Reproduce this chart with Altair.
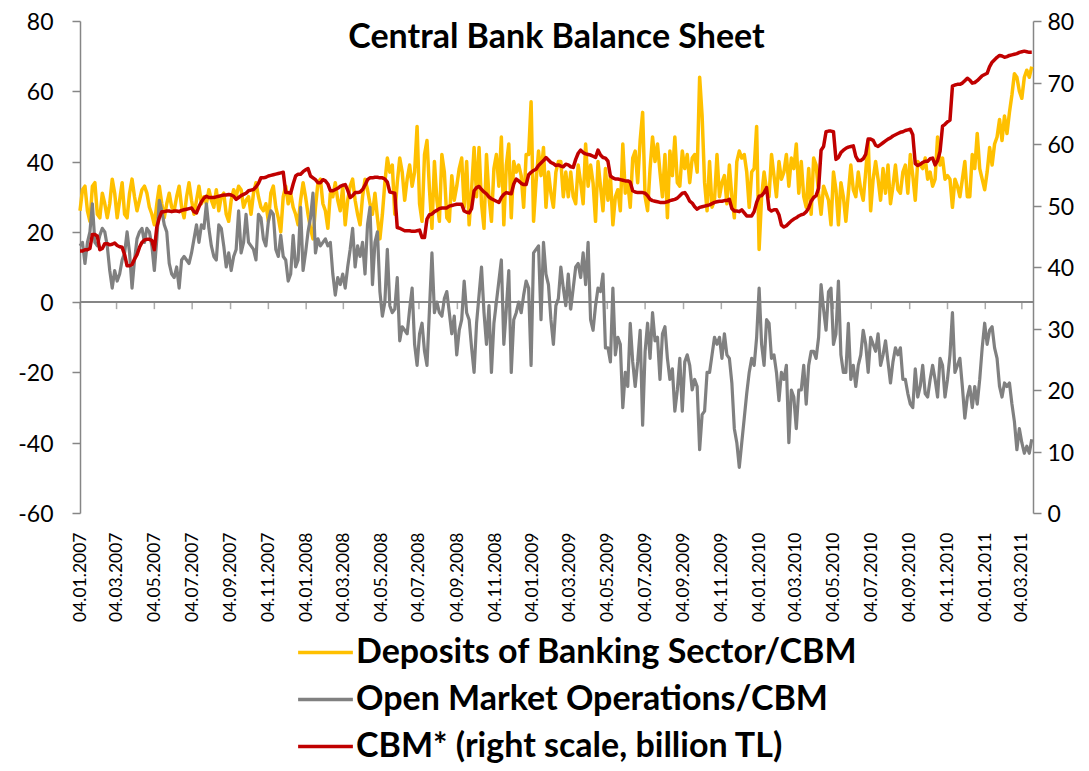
import altair as alt
import pandas as pd

# ---------------- data (one value every 4 days from 04.01.2007) ----------------
START = "2007-01-04"
STEP_DAYS = 4
SPAN_DAYS = 1538

series_names = [
    "Deposits of Banking Sector/CBM",
    "Open Market Operations/CBM",
    "CBM* (right scale, billion TL)",
]
series_colors = ["#FFC000", "#808080", "#C00000"]

deposits = [
    26, 32, 33, 26, 23, 33, 34, 25, 24, 31, 28, 24, 28, 35, 31, 24, 29, 34, 25, 24, 31, 35, 30, 26, 29,
    32, 33, 31, 27, 25, 22, 28, 33, 28, 24, 28, 31, 27, 26, 30, 33, 27, 24, 30, 34, 29, 25, 29, 33, 28,
    30, 28, 32, 29, 27, 32, 26, 30, 31, 25, 23, 29, 32, 30, 33, 32, 27, 29, 30, 25, 31, 34, 30, 27, 26,
    28, 23, 31, 33, 27, 24, 20, 30, 33, 28, 31, 27, 25, 22, 29, 34, 30, 25, 21, 18, 27, 34, 35, 28,
    26, 21, 31, 30, 34, 29, 26, 33, 22, 29, 33, 35, 29, 25, 22, 30, 35, 32, 28, 25, 31, 24, 18, 25, 34,
    41, 37, 39, 25, 34, 41, 37, 29, 35, 39, 33, 37, 50, 28, 23, 42, 46, 32, 21, 40, 29, 23, 42, 37,
    24, 23, 36, 29, 33, 38, 41, 27, 40, 22, 32, 44, 30, 44, 28, 21, 42, 30, 23, 38, 42, 33, 47, 22, 39,
    45, 24, 40, 37, 39, 36, 27, 42, 42, 57, 23, 34, 43, 36, 44, 27, 37, 31, 27, 37, 40, 40, 30,
    37, 30, 37, 30, 28, 39, 34, 28, 45, 33, 39, 34, 23, 40, 33, 26, 38, 29, 36, 22, 30, 32, 26, 45, 31,
    34, 27, 41, 43, 34, 46, 54, 30, 26, 38, 47, 40, 45, 37, 30, 42, 24, 43, 36, 47, 34, 33, 43, 38,
    42, 34, 41, 42, 37, 64, 53, 34, 26, 40, 27, 29, 42, 30, 34, 36, 28, 39, 30, 24, 40, 43, 41, 42, 37,
    27, 37, 38, 50, 15, 30, 37, 32, 30, 42, 36, 30, 40, 35, 37, 42, 33, 41, 38, 45, 31, 40, 30,
    27, 38, 25, 41, 39, 31, 25, 33, 31, 29, 22, 37, 32, 22, 34, 30, 23, 31, 39, 32, 30, 37, 32, 29, 37,
    46, 26, 35, 40, 35, 29, 38, 31, 39, 28, 33, 39, 32, 31, 37, 39, 31, 42, 36, 29, 40, 39, 38, 41,
    35, 37, 33, 35, 47, 39, 41, 35, 36, 35, 27, 35, 33, 30, 35, 40, 30, 30, 42, 38, 48, 38, 35, 32, 37,
    44, 39, 45, 47, 52, 46, 53, 48, 54, 59, 65, 64, 60, 58, 64, 66, 64, 67,
]

omo = [
    16, 17, 11, 17, 20, 28, 17, 16, 19, 21, 20, 16, 9, 4, 9, 6, 8, 12, 14, 20, 14, 4, 12, 18, 20,
    21, 17, 21, 20, 16, 9, 18, 29, 26, 22, 20, 11, 8, 7, 10, 4, 12, 13, 12, 11, 14, 18, 22, 17, 22,
    21, 28, 21, 16, 13, 12, 22, 21, 16, 10, 14, 9, 13, 15, 26, 14, 17, 25, 17, 16, 15, 12, 25, 24, 18,
    16, 23, 26, 25, 15, 13, 19, 13, 12, 6, 8, 19, 10, 12, 27, 9, 14, 20, 24, 31, 14, 18, 16, 17,
    18, 16, 17, 8, 2, 7, 5, 8, 4, 10, 15, 21, 10, 16, 13, 17, 8, 22, 27, 5, 17, 20, 3, -4, 0,
    15, -1, -3, -2, 7, -11, -7, -8, -9, -2, 4, -12, -18, -9, -6, -14, -18, -2, 14, -3, 0, -3, -4, 1,
    3, -3, -9, -4, -15, -8, -5, 6, -3, -5, -13, -20, -6, 2, 10, -3, -12, -1, -20, -6, 0, 6, 12, -12, -2,
    9, -20, -5, -3, 0, -3, 2, 6, 4, -18, 14, 15, 16, -5, 17, 8, 5, -5, -12, -1, 1, 10, 4,
    -1, 8, -2, 4, 10, 11, 7, 14, 5, 17, -5, -8, -1, 4, 3, 8, -13, -13, -17, 4, -15, -10, -12, -30, -20,
    -24, -6, -17, -24, -17, -8, -35, -14, -6, -16, -3, -11, -10, -22, -9, -7, -16, -22, -19, -31, -25, -16, -31, -17,
    -15, -18, -25, -22, -24, -42, -32, -31, -20, -20, -15, -10, -12, -10, -16, -9, -15, -16, -23, -36, -40, -47, -40, -33, -26,
    -20, -16, -18, -10, 4, -12, -18, -5, -6, -16, -15, -20, -28, -20, -22, -18, -40, -25, -27, -36, -25, -25, -18,
    -29, -18, -14, -14, -16, -10, 5, -2, -8, 3, 4, -12, -9, 6, -15, -20, -20, -6, -22, -18, -24, -18, -15, -8, -12,
    -20, -10, -12, -14, -9, -18, -15, -11, -17, -23, -17, -13, -15, -13, -22, -22, -26, -29, -30, -19, -27, -24, -18, -26,
    -27, -22, -18, -22, -27, -16, -18, -27, -22, -15, -3, -20, -18, -16, -24, -33, -27, -24, -30, -24, -29, -22, -13, -6, -12,
    -8, -7, -13, -16, -24, -27, -23, -24, -23, -29, -34, -42, -36, -40, -43, -41, -43, -39,
]

cbm = [
    42.6, 42.6, 42.8, 42.8, 43.0, 45.3, 45.3, 45.0, 42.8, 43.0, 43.8, 43.8, 43.6, 43.7, 43.9, 43.5, 43.3,
    43.2, 42.0, 40.2, 40.2, 40.4, 41.3, 42.0, 43.2, 44.0, 44.4, 44.5, 44.5, 44.3, 42.8, 46.5, 48.0, 49.0,
    49.0, 49.1, 49.1, 49.0, 49.1, 49.1, 49.0, 49.2, 49.3, 49.4, 49.5, 49.6, 49.0, 48.8, 49.8, 50.6,
    51.2, 51.5, 51.3, 51.3, 51.3, 51.4, 51.5, 51.6, 51.7, 51.7, 51.8, 51.7, 51.5, 51.0, 51.3, 51.6, 51.8,
    52.0, 52.4, 52.5, 52.6, 53.0, 53.6, 54.5, 54.5, 54.6, 54.8, 54.9, 55.0, 55.1, 55.2, 55.3, 55.4, 52.1,
    52.1, 52.0, 53.5, 54.8, 55.1, 55.1, 55.5, 55.8, 56.0, 54.8, 54.5, 54.2, 53.7, 53.7, 54.2,
    54.0, 53.5, 52.4, 52.4, 52.6, 52.8, 53.1, 53.3, 53.4, 52.5, 51.3, 51.6, 52.1, 52.1, 52.2, 52.6, 53.3,
    54.2, 54.5, 54.5, 54.6, 54.6, 54.5, 54.5, 54.3, 53.8, 52.2, 52.1, 52.0, 46.4, 46.3, 46.1, 45.9, 45.9,
    45.9, 45.8, 45.8, 45.9, 46.0, 44.8, 44.8, 47.8, 48.5, 48.6, 49.0, 49.2, 49.5, 49.6, 49.6,
    49.6, 49.9, 50.0, 50.1, 50.2, 50.2, 50.2, 49.1, 48.9, 48.8, 49.5, 52.4, 52.9, 53.1, 52.6, 52.2, 51.9,
    51.4, 51.1, 50.9, 50.7, 50.5, 51.3, 51.8, 52.1, 52.0, 51.9, 53.5, 54.3, 54.0, 53.6, 53.4, 53.4, 55.0,
    55.4, 55.7, 55.9, 56.5, 56.9, 57.3, 57.8, 57.4, 57.0, 56.8, 56.5, 56.6, 56.4, 56.3,
    56.7, 56.6, 56.3, 56.2, 57.5, 58.5, 59.0, 58.6, 58.4, 58.3, 58.2, 58.0, 57.8, 59.0, 58.2, 57.8, 57.7,
    57.2, 54.8, 54.5, 54.3, 54.3, 54.2, 54.1, 54.0, 54.0, 53.8, 52.4, 52.2, 52.1, 52.1, 52.1, 52.0, 51.6,
    51.0, 50.8, 50.7, 50.6, 50.5, 50.5, 50.5, 50.6, 50.8, 50.9, 51.0, 51.2, 51.6, 52.0, 52.1,
    51.5, 50.7, 50.4, 49.8, 49.4, 49.7, 49.8, 49.9, 50.0, 50.1, 50.3, 50.5, 50.6, 50.7, 50.7, 50.8, 50.8,
    51.0, 49.5, 49.1, 49.1, 49.0, 49.3, 48.8, 48.3, 48.3, 48.3, 49.0, 50.5, 51.5, 51.6, 52.1, 52.9, 49.4,
    49.1, 49.3, 49.3, 48.5, 46.8, 46.5, 46.7, 47.1, 47.5, 47.8, 48.0, 48.3, 48.5, 48.6,
    49.0, 49.6, 50.7, 51.3, 51.6, 52.8, 59.0, 59.6, 62.0, 62.1, 62.1, 62.0, 57.5, 57.8, 58.6, 59.0, 59.3,
    59.5, 59.6, 59.7, 58.0, 57.3, 57.3, 57.6, 58.3, 60.8, 60.8, 60.6, 59.8, 59.6, 59.9, 60.2, 60.5, 60.8,
    61.0, 61.3, 61.5, 61.7, 61.9, 62.0, 62.2, 62.3, 62.4, 61.5, 56.8, 56.5, 56.7, 57.0, 57.2,
    57.2, 57.6, 57.7, 56.6, 57.3, 58.8, 62.9, 63.2, 63.6, 63.9, 69.4, 69.6, 69.7, 69.7, 69.9, 70.3, 70.7,
    70.4, 69.9, 70.0, 70.3, 70.7, 71.1, 71.3, 71.5, 72.6, 73.3, 73.7, 74.1, 74.4, 74.3, 74.1, 74.2, 74.4,
    74.5, 74.6, 74.7, 74.9, 75.0, 75.1, 75.0, 74.9, 74.9,
]

tick_labels = [
    "04.01.2007", "04.03.2007", "04.05.2007", "04.07.2007", "04.09.2007", "04.11.2007",
    "04.01.2008", "04.03.2008", "04.05.2008", "04.07.2008", "04.09.2008", "04.11.2008",
    "04.01.2009", "04.03.2009", "04.05.2009", "04.07.2009", "04.09.2009", "04.11.2009",
    "04.01.2010", "04.03.2010", "04.05.2010", "04.07.2010", "04.09.2010", "04.11.2010",
    "04.01.2011", "04.03.2011",
]
left_ticks = [-60, -40, -20, 0, 20, 40, 60, 80]
right_ticks = [0, 10, 20, 30, 40, 50, 60, 70, 80]

TITLE = "Central Bank Balance Sheet"
FONT = "Lato"
AXIS_GREY = "#868686"


# ---------------- tables ----------------
def frame(values, name):
    dates = pd.date_range(START, periods=len(values), freq=f"{STEP_DAYS}D")
    return pd.DataFrame({"date": dates.strftime("%Y-%m-%d"), "value": values, "series": name})


df_dep = frame(deposits, series_names[0])
df_omo = frame(omo, series_names[1])
df_cbm = frame(cbm, series_names[2])

tick_dates = pd.to_datetime(tick_labels, format="%d.%m.%Y")
tick_ms = [int(t.value // 10**6) for t in tick_dates]
df_ticks = pd.DataFrame({"date": tick_dates.strftime("%Y-%m-%d")})

start_ms = int(pd.Timestamp(START).value // 10**6)
end_ms = int((pd.Timestamp(START) + pd.Timedelta(days=SPAN_DAYS)).value // 10**6)

# ---------------- encodings ----------------
x_axis = alt.Axis(
    values=tick_ms, labelExpr="utcFormat(datum.value, '%d.%m.%Y')", labelAngle=270,
    labelFont=FONT, labelFontSize=17.5, labelColor="#000000", labelPadding=19,
    labelFlush=False, labelOverlap=False, domain=False, ticks=False, grid=False, title=None,
)
x_scale = alt.Scale(type="utc", domain=[start_ms, end_ms], nice=False)
x_enc = alt.X("date:T", scale=x_scale, axis=x_axis)

color_enc = alt.Color(
    "series:N",
    scale=alt.Scale(domain=series_names, range=series_colors),
    legend=alt.Legend(
        orient="none", legendX=216, legendY=602, direction="vertical", title=None,
        symbolType="stroke", symbolSize=3000, symbolStrokeWidth=3.5,
        labelFont=FONT, labelFontSize=34, labelFontWeight="bold", labelColor="#000000",
        labelLimit=1000, rowPadding=0, labelOffset=1,
    ),
)

y_axis_common = dict(
    labelFont=FONT, labelFontSize=23, labelColor="#000000", labelExpr="'' + datum.value",
    labelOffset=1.5, tickSize=8, tickWidth=1.5, tickColor=AXIS_GREY, domainColor=AXIS_GREY,
    domainWidth=1.5, grid=False, title=None,
)
y_left = alt.Y(
    "value:Q",
    scale=alt.Scale(domain=[-60, 80], nice=False, zero=False),
    axis=alt.Axis(orient="left", values=left_ticks, labelPadding=19, **y_axis_common),
)
y_right = alt.Y(
    "value:Q",
    scale=alt.Scale(domain=[0, 80], nice=False, zero=False),
    axis=alt.Axis(orient="right", values=right_ticks, labelPadding=6, **y_axis_common),
)

# ---------------- layers ----------------
zero_line = alt.Chart(df_ticks).mark_rule(color=AXIS_GREY, strokeWidth=1.5).encode(
    y=alt.datum(0)
)
zero_ticks = alt.Chart(df_ticks).mark_tick(
    color=AXIS_GREY, orient="vertical", size=7, thickness=1.5, yOffset=3.5
).encode(x=x_enc, y=alt.datum(0))
dep_line = alt.Chart(df_dep).mark_line(strokeWidth=3.5, strokeJoin="round").encode(
    x=x_enc, y=y_left, color=color_enc
)
omo_line = alt.Chart(df_omo).mark_line(strokeWidth=3.2, strokeJoin="round").encode(
    x=x_enc, y=y_left, color=color_enc
)
cbm_line = alt.Chart(df_cbm).mark_line(strokeWidth=3.5, strokeJoin="round").encode(
    x=x_enc, y=y_right, color=color_enc
)

left = alt.layer(dep_line, zero_line, zero_ticks, omo_line)
chart = (
    alt.layer(left, cbm_line)
    .resolve_scale(y="independent")
    .properties(
        width=953,
        height=492,
        autosize=alt.AutoSizeParams(type="none"),
        padding={"left": 72, "top": 13, "right": 48, "bottom": 250},
        title=alt.TitleParams(
            text=TITLE, font=FONT, fontSize=34, fontWeight="bold", color="#000000",
            anchor="middle", offset=-43,
        ),
        background="white",
    )
    .configure_view(strokeWidth=0)
)

chart.save("out.html", embed_options={"renderer": "svg", "actions": False})
